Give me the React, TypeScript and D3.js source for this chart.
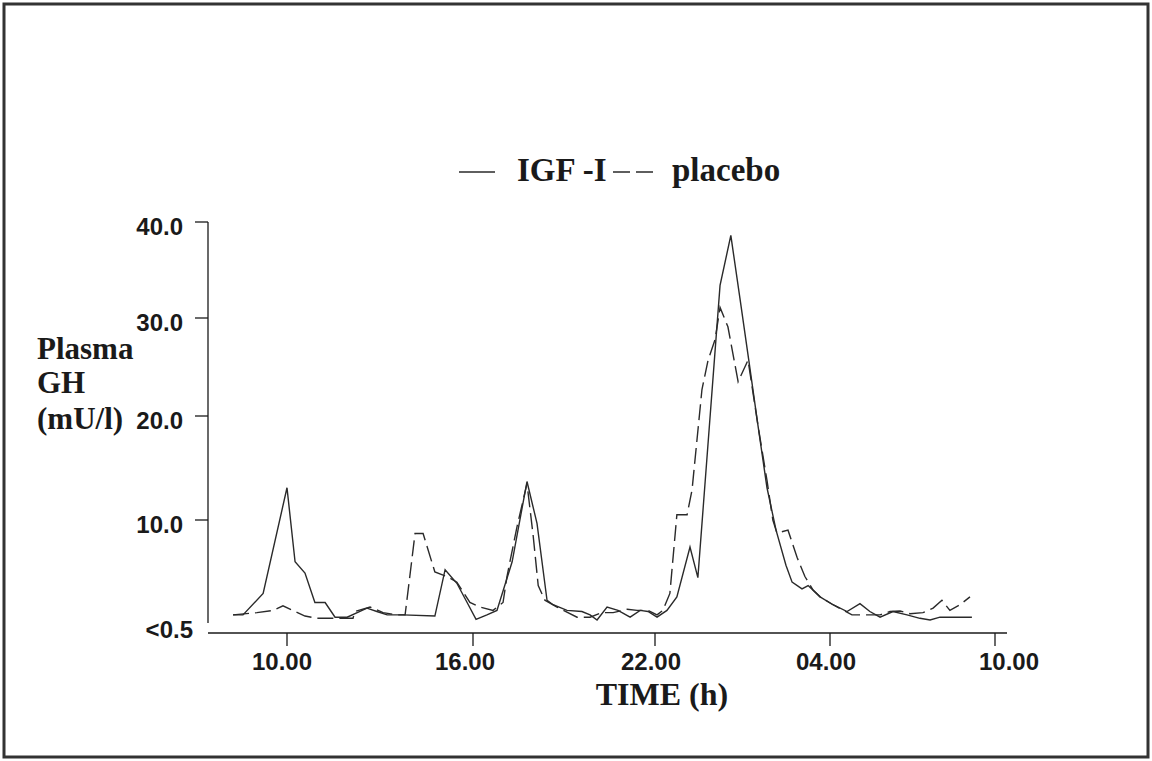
import React, { useEffect, useRef } from "react";
import * as d3 from "d3";

// sample times in clock hours (values above 24 are the next morning)
const igfTime = [8.26, 8.58, 9.23, 10.0, 10.26, 10.58, 10.9, 11.23, 11.55, 11.94, 12.58, 12.9, 13.23, 13.74, 14.77, 15.1, 15.48, 15.81, 16.1, 16.46, 16.79, 17.29, 17.78, 18.11, 18.44, 18.64, 19.1, 19.59, 19.86, 20.09, 20.42, 20.78, 21.18, 21.51, 21.77, 22.07, 22.41, 22.75, 23.2, 23.47, 24.23, 24.6, 24.91, 25.22, 25.53, 25.84, 26.15, 26.49, 26.7, 27.04, 27.25, 27.66, 28.11, 28.62, 29.09, 29.45, 29.82, 30.29, 30.8, 31.27, 31.64, 32.0, 33.16];
const igfGH = [1.6, 1.6, 3.5, 13.1, 6.3, 5.3, 2.7, 2.7, 1.4, 1.4, 2.2, 1.9, 1.6, 1.6, 1.5, 5.6, 4.4, 2.7, 1.2, 1.6, 2.0, 6.3, 13.7, 9.7, 2.9, 2.5, 2.0, 1.9, 1.6, 1.15, 2.3, 2.0, 1.4, 2.0, 1.9, 1.4, 2.0, 3.2, 7.6, 4.9, 33.4, 38.6, 32.1, 25.6, 19.1, 13.1, 9.1, 6.0, 4.5, 3.9, 4.2, 3.2, 2.5, 1.9, 2.6, 1.9, 1.4, 1.9, 1.6, 1.3, 1.15, 1.4, 1.4];

const placeboTime = [8.26, 9.03, 9.55, 9.87, 10.19, 10.58, 10.97, 11.39, 12.13, 12.19, 12.68, 13.1, 13.55, 13.81, 14.13, 14.39, 14.77, 15.16, 15.48, 15.9, 16.23, 16.66, 16.99, 17.12, 17.45, 17.78, 17.98, 18.15, 18.37, 18.77, 19.43, 19.86, 20.25, 20.62, 21.08, 21.41, 21.77, 22.07, 22.27, 22.51, 22.75, 23.1, 23.27, 23.61, 23.82, 24.06, 24.23, 24.5, 24.85, 25.19, 25.53, 25.84, 26.04, 26.18, 26.56, 26.87, 27.14, 27.42, 27.66, 28.11, 28.8, 29.2, 29.82, 30.18, 30.55, 30.91, 31.38, 31.75, 32.07, 32.36, 32.73, 33.09];
const placeboGH = [1.6, 1.8, 2.0, 2.4, 2.0, 1.5, 1.3, 1.3, 1.3, 1.9, 2.3, 1.8, 1.6, 1.6, 8.8, 8.8, 5.4, 5.0, 4.5, 2.7, 2.3, 2.0, 2.7, 5.0, 9.4, 13.5, 8.7, 4.2, 2.9, 2.3, 1.4, 1.4, 1.8, 1.8, 2.1, 2.0, 2.0, 1.6, 2.0, 3.5, 10.5, 10.5, 12.9, 22.7, 25.7, 27.8, 31.1, 29.1, 23.5, 25.7, 19.1, 13.8, 10.0, 8.85, 9.1, 6.7, 5.0, 3.8, 3.2, 2.5, 1.6, 1.6, 1.6, 1.9, 1.95, 1.7, 1.8, 2.2, 2.9, 2.0, 2.5, 3.2];

const xTickHours = [10, 16, 22, 28, 34];
const xTickLabels = ["10.00", "16.00", "22.00", "04.00", "10.00"];
const yTickValues = [0, 10, 20, 30, 40];
const yTickLabels = ["<0.5", "10.0", "20.0", "30.0", "40.0"];

const W = 1152;
const H = 761;
const SERIF = "'Liberation Serif', 'Times New Roman', serif";
const SANS = "'Liberation Sans', Arial, sans-serif";
const INK = "#1a1a1a";

export default function App() {
  const ref = useRef<SVGSVGElement>(null);

  useEffect(() => {
    const svg = d3.select(ref.current);
    svg.selectAll("*").remove();

    // the scanned axes are not quite evenly spaced, so use piecewise scales
    const x = d3.scaleLinear().domain(xTickHours).range([287, 473, 655, 830, 995]);
    const y = d3.scaleLinear().domain(yTickValues).range([633, 520, 416, 318, 222]);

    // outer frame
    svg
      .append("rect")
      .attr("x", 4)
      .attr("y", 4)
      .attr("width", W - 8)
      .attr("height", H - 8)
      .attr("fill", "white")
      .attr("stroke", "#333")
      .attr("stroke-width", 3);

    // axis lines
    svg
      .append("line")
      .attr("x1", 208).attr("x2", 208)
      .attr("y1", y(40)).attr("y2", 623)
      .attr("stroke", INK).attr("stroke-width", 1.3);
    svg
      .append("line")
      .attr("x1", 208).attr("x2", 1007)
      .attr("y1", y(0)).attr("y2", y(0))
      .attr("stroke", INK).attr("stroke-width", 1.3);

    // y ticks + labels
    yTickValues.forEach((v, i) => {
      if (v > 0) {
        svg
          .append("line")
          .attr("x1", 195).attr("x2", 208)
          .attr("y1", y(v)).attr("y2", y(v))
          .attr("stroke", INK).attr("stroke-width", 1.3);
      }
      svg
        .append("text")
        .attr("x", v > 0 ? 183 : 193)
        .attr("y", y(v) + (v > 0 ? 13 : 5))
        .attr("text-anchor", "end")
        .attr("font-family", SANS)
        .attr("font-weight", "bold")
        .attr("font-size", 24)
        .attr("fill", INK)
        .text(yTickLabels[i]);
    });

    // x ticks + labels
    const labelShift = [-5, -8, -4, -4, 14];
    xTickHours.forEach((h, i) => {
      svg
        .append("line")
        .attr("x1", x(h)).attr("x2", x(h))
        .attr("y1", y(0)).attr("y2", y(0) + 13)
        .attr("stroke", INK).attr("stroke-width", 1.3);
      svg
        .append("text")
        .attr("x", x(h) + labelShift[i])
        .attr("y", 670)
        .attr("text-anchor", "middle")
        .attr("font-family", SANS)
        .attr("font-weight", "bold")
        .attr("font-size", 24)
        .attr("fill", INK)
        .text(xTickLabels[i]);
    });

    // series
    const line = d3
      .line<[number, number]>()
      .x((d) => x(d[0]))
      .y((d) => y(d[1]));

    const igf = igfTime.map((t, i) => [t, igfGH[i]] as [number, number]);
    const placebo = placeboTime.map((t, i) => [t, placeboGH[i]] as [number, number]);

    svg
      .append("path")
      .datum(placebo)
      .attr("d", line)
      .attr("fill", "none")
      .attr("stroke", "#2a2a2a")
      .attr("stroke-width", 1.4)
      .attr("stroke-dasharray", "16,6");

    svg
      .append("path")
      .datum(igf)
      .attr("d", line)
      .attr("fill", "none")
      .attr("stroke", "#2a2a2a")
      .attr("stroke-width", 1.4);

    // legend
    svg
      .append("line")
      .attr("x1", 459).attr("x2", 495)
      .attr("y1", 172).attr("y2", 172)
      .attr("stroke", "#2a2a2a").attr("stroke-width", 1.4);
    svg
      .append("text")
      .attr("x", 517).attr("y", 181)
      .attr("font-family", SERIF).attr("font-weight", "bold")
      .attr("font-size", 33).attr("fill", INK)
      .text("IGF -I");
    svg
      .append("line")
      .attr("x1", 613).attr("x2", 653)
      .attr("y1", 172).attr("y2", 172)
      .attr("stroke", "#2a2a2a").attr("stroke-width", 1.4)
      .attr("stroke-dasharray", "17,6");
    svg
      .append("text")
      .attr("x", 672).attr("y", 181)
      .attr("font-family", SERIF).attr("font-weight", "bold")
      .attr("font-size", 33).attr("fill", INK)
      .text("placebo");

    // axis titles
    const yTitle = ["Plasma", "GH", "(mU/l)"];
    const yTitleBase = [359, 393, 429];
    yTitle.forEach((s, i) => {
      svg
        .append("text")
        .attr("x", 37).attr("y", yTitleBase[i])
        .attr("font-family", SERIF).attr("font-weight", "bold")
        .attr("font-size", 31).attr("fill", INK)
        .text(s);
    });
    svg
      .append("text")
      .attr("x", 662).attr("y", 705)
      .attr("text-anchor", "middle")
      .attr("font-family", SERIF).attr("font-weight", "bold")
      .attr("font-size", 32).attr("fill", INK)
      .text("TIME (h)");
  }, []);

  return (
    <svg
      ref={ref}
      width={W}
      height={H}
      style={{ position: "absolute", left: 0, top: 0, display: "block", background: "white" }}
    ></svg>
  );
}
